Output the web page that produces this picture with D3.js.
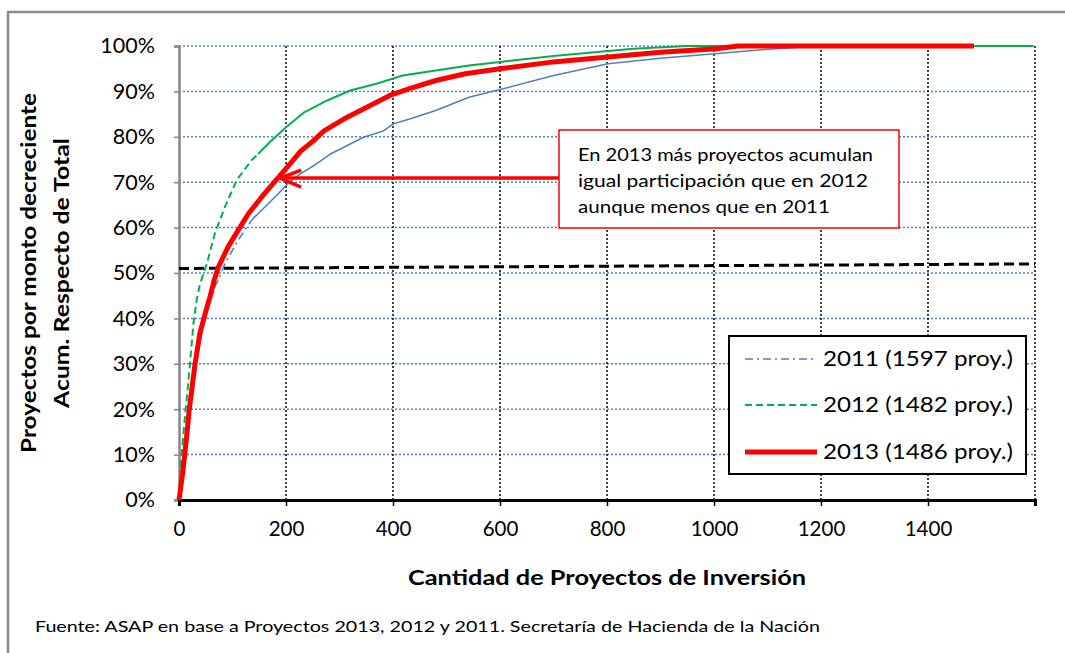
<!DOCTYPE html>
<html><head><meta charset="utf-8">
<script src="https://cdn.jsdelivr.net/npm/d3@7"></script>
<style>
body{margin:0;background:#fff}
svg{display:block;font-family:Lato,"Open Sans",sans-serif}
</style>
</head><body>
<svg id="c" width="1065" height="653"></svg>
<script>
// ---------- data ----------
const xTicks = [0,200,400,600,800,1000,1200,1400,1600];
const xTickLabels = ["0","200","400","600","800","1000","1200","1400",""];
const yTicks = [0,0.1,0.2,0.3,0.4,0.5,0.6,0.7,0.8,0.9,1];
const yTickLabels = ["0%","10%","20%","30%","40%","50%","60%","70%","80%","90%","100%"];

const seriesNames = ["2011 (1597 proy.)","2012 (1482 proy.)","2013 (1486 proy.)"];

const proj2011  = [0,5,10,20,30,45,55,67,73.5,86,111,136,161,186,204,229,254,283,308,345,382,400,431,480,542,600,700,802,900,1002,1100,1200,1597];
const share2011 = [0,.07,.12,.22,.29,.38,.426,.47,.485,.521,.573,.617,.646,.675,.698,.72,.738,.762,.777,.799,.813,.828,.839,.858,.887,.904,.935,.961,.973,.983,.993,1,1];

const proj2012  = [0,5,10,16,20.6,27,33,39,52,67,86,108,136,148,172,200,234,277,320,369,418,480,542,600,700,802,849,950,1597];
const share2012 = [0,.10,.17,.242,.301,.389,.44,.475,.52,.587,.646,.705,.749,.762,.791,.821,.854,.88,.902,.917,.935,.946,.957,.965,.978,.989,.994,1,1];

const proj2013  = [0,7,11,15.6,19,23,30,39,49,58,66,74,92,111,130,155,179,198,228,250,271,308,351,394,431,480,535,600,700,802,900,1005,1044,1486];
const share2013 = [0,.06,.103,.154,.198,.235,.30,.367,.411,.448,.485,.514,.558,.595,.631,.668,.701,.727,.769,.79,.813,.839,.865,.891,.906,.924,.939,.95,.965,.976,.986,.994,1,1];

const refX = [0,1600];
const refY = [0.51,0.52];

const annotLines = ["En 2013 más proyectos acumulan","igual participación que en 2012","aunque menos que en 2011"];
const annotTarget = [189, 0.709];

const yTitle = ["Proyectos por monto decreciente","Acum. Respecto de Total"];
const xTitle = "Cantidad de Proyectos de Inversión";
const source = "Fuente: ASAP en base a Proyectos 2013, 2012 y 2011. Secretaría de Hacienda de la Nación";

// ---------- chart ----------
const svg = d3.select("#c");
const x = d3.scaleLinear().domain([0,1600]).range([179,1035]);
const y = d3.scaleLinear().domain([0,1]).range([500,46]);

// outer border (extends past the picture)
svg.append("rect").attr("x",8).attr("y",12).attr("width",1100).attr("height",700)
  .attr("fill","none").attr("stroke","#8c8c8c").attr("stroke-width",2.5);

// horizontal grid (blue dotted)
svg.append("g").selectAll("line").data(yTicks.slice(1)).join("line")
  .attr("x1",x(0)).attr("x2",x(1600)).attr("y1",d=>y(d)).attr("y2",d=>y(d))
  .attr("stroke","#4f81bd").attr("stroke-width",1.5).attr("stroke-dasharray","2,2");
// vertical grid (black dotted)
svg.append("g").selectAll("line").data(xTicks.slice(1)).join("line")
  .attr("x1",d=>x(d)).attr("x2",d=>x(d)).attr("y1",y(0)).attr("y2",y(1))
  .attr("stroke","#000").attr("stroke-width",1.5).attr("stroke-dasharray","2,2");

// axes
const yAxis = svg.append("g").attr("transform",`translate(${x(0)},0)`)
  .call(d3.axisLeft(y).tickValues(yTicks).tickFormat((d,i)=>yTickLabels[i]).tickSize(5).tickPadding(19));
yAxis.select(".domain").attr("stroke","#868686").attr("stroke-width",2.5);
yAxis.selectAll(".tick line").attr("stroke","#868686").attr("stroke-width",1.5);
yAxis.selectAll("text").attr("font-size",21.5).attr("fill","#000").attr("font-family","Lato");

const xAxis = svg.append("g").attr("transform",`translate(0,${y(0)})`)
  .call(d3.axisBottom(x).tickValues(xTicks).tickFormat((d,i)=>xTickLabels[i]).tickSize(6).tickPadding(15));
xAxis.select(".domain").attr("stroke","#000").attr("stroke-width",3);
xAxis.selectAll(".tick line").attr("stroke","#000").attr("stroke-width",1.5);
xAxis.selectAll("text").attr("font-size",20.5).attr("fill","#000").attr("font-family","Lato");

// reference dashed line
svg.append("line").attr("x1",x(refX[0])).attr("x2",x(refX[1])).attr("y1",y(refY[0])).attr("y2",y(refY[1]))
  .attr("stroke","#000").attr("stroke-width",3).attr("stroke-dasharray","10,5");

// series
const line = d3.line().x(d=>x(d[0])).y(d=>y(d[1]));
function drawSeries(px, py, color, width, dash, solidFrom){
  const pts = px.map((v,i)=>[v,py[i]]);
  const dashed = pts.filter(p=>p[0]<=solidFrom);
  const solid = pts.filter(p=>p[0]>=dashed[dashed.length-1][0]);
  svg.append("path").attr("d",line(dashed)).attr("fill","none").attr("stroke",color)
    .attr("stroke-width",width).attr("stroke-dasharray",dash);
  svg.append("path").attr("d",line(solid)).attr("fill","none").attr("stroke",color)
    .attr("stroke-width",width).attr("stroke-linejoin","round");
}
drawSeries(proj2011, share2011, "#4f81bd", 1.6, "8,4,2,4", 155);
drawSeries(proj2012, share2012, "#00b050", 2, "7,4", 150);
svg.append("path").attr("d",line(proj2013.map((v,i)=>[v,share2013[i]])))
  .attr("fill","none").attr("stroke","#ff0000").attr("stroke-width",5).attr("stroke-linejoin","round");

// annotation arrow
const tipX = x(annotTarget[0]), tipY = y(annotTarget[1]);
svg.append("line").attr("x1",559).attr("x2",tipX+2).attr("y1",tipY).attr("y2",tipY)
  .attr("stroke","#ff0000").attr("stroke-width",3.5);
svg.append("path").attr("d",`M${tipX+21},${tipY-8} L${tipX},${tipY} L${tipX+21},${tipY+9}`)
  .attr("fill","none").attr("stroke","#ff0000").attr("stroke-width",3.5);
// annotation box
svg.append("rect").attr("x",559).attr("y",130).attr("width",340).attr("height",98)
  .attr("fill","#fff").attr("stroke","#ff0000").attr("stroke-width",1.5);
const annW = [295, 290, 252];
svg.append("g").selectAll("text").data(annotLines).join("text")
  .attr("x",578).attr("y",(d,i)=>161+i*26).attr("font-size",18)
  .attr("textLength",(d,i)=>annW[i]).attr("lengthAdjust","spacingAndGlyphs")
  .text(d=>d);

// legend
svg.append("rect").attr("x",729).attr("y",336).attr("width",297).attr("height",138)
  .attr("fill","#fff").attr("stroke","#000").attr("stroke-width",2);
const legColors = ["#4f81bd","#00b050","#ff0000"];
const legWidths = [1.6,2,5];
const legDash = ["8,4,2,4","7,4",null];
const legY = [359,405,452];
const lg = svg.append("g").selectAll("g").data(seriesNames).join("g");
lg.append("line").attr("x1",745).attr("x2",817).attr("y1",(d,i)=>legY[i]).attr("y2",(d,i)=>legY[i])
  .attr("stroke",(d,i)=>legColors[i]).attr("stroke-width",(d,i)=>legWidths[i])
  .attr("stroke-dasharray",(d,i)=>legDash[i]);
lg.append("text").attr("x",823).attr("y",(d,i)=>legY[i]+7).attr("font-size",21)
  .attr("textLength",190).attr("lengthAdjust","spacingAndGlyphs").text(d=>d);

// axis titles
svg.append("text").attr("x",607).attr("y",585).attr("text-anchor","middle")
  .attr("font-weight","bold").attr("font-size",20)
  .attr("textLength",398).attr("lengthAdjust","spacingAndGlyphs").text(xTitle);
const yW = [360, 270];
const yB = [36, 69];
yTitle.forEach((t,i)=>{
  svg.append("text").attr("transform",`translate(${yB[i]},273) rotate(-90)`)
    .attr("text-anchor","middle").attr("font-weight","bold").attr("font-size",21)
    .attr("textLength",yW[i]).attr("lengthAdjust","spacingAndGlyphs").text(t);
});

// source
svg.append("text").attr("x",35).attr("y",632).attr("font-size",16)
  .attr("textLength",785).attr("lengthAdjust","spacingAndGlyphs").text(source);
</script>
</body></html>
